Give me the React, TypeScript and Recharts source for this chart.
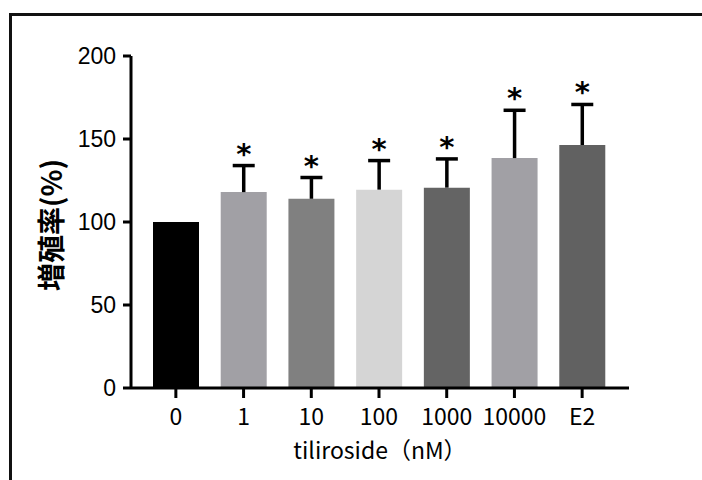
import React from "react";
import { BarChart, Bar, XAxis, YAxis, Cell, LabelList } from "recharts";

// tiliroside concentrations (nM) + E2 control
const categories = ["0", "1", "10", "100", "1000", "10000", "E2"];
const means = [100, 118, 114, 119.5, 120.7, 138.5, 146.4];
const errors = [0, 16, 12.8, 17.5, 17.3, 28.8, 24.4];
const significant = [false, true, true, true, true, true, true];
const barColors = ["#000000", "#a1a0a5", "#808080", "#d5d5d5", "#646464", "#a1a0a5", "#616161"];
const yTicks = [0, 50, 100, 150, 200];

const data = categories.map((name, i) => ({
  name,
  mean: means[i],
  err: errors[i],
  sig: significant[i],
}));

const ErrorStem = (props: any) => {
  const { x, y, width, height } = props;
  if (!height || height <= 0) return null;
  const cx = x + width / 2;
  return (
    <g>
      <line x1={cx} x2={cx} y1={y + height} y2={y} stroke="#000" strokeWidth={3.5} />
      <line x1={cx - 11} x2={cx + 11} y1={y} y2={y} stroke="#000" strokeWidth={3.5} />
    </g>
  );
};

const Star = (props: any) => {
  const { x, y, width, index } = props;
  if (!significant[index]) return null;
  return (
    <text
      x={x + width / 2}
      y={y - 2}
      textAnchor="middle"
      fontFamily="'DejaVu Sans'"
      fontWeight="bold"
      fontSize={29}
      fill="#000"
    >
      *
    </text>
  );
};

const YLabel = () => (
  <text
    x={50}
    y={225}
    transform="rotate(-90, 50, 225)"
    textAnchor="middle"
    dominantBaseline="central"
    fontFamily="'Noto Sans CJK JP'"
    fontWeight="bold"
    fontSize={28}
    fill="#000"
  >
    増殖率(%)
  </text>
);

export default function App() {
  return (
    <div style={{ position: "fixed", left: 0, top: 0, width: 702, height: 480, background: "#fff" }}>
      <div
        style={{
          position: "fixed",
          left: 9,
          top: 13,
          width: 693,
          height: 467,
          borderTop: "3px solid #111",
          borderLeft: "3px solid #111",
          boxSizing: "border-box",
        }}
      />
      <div style={{ position: "fixed", left: 0, top: 0 }}>
        <BarChart
          width={702}
          height={480}
          data={data}
          margin={{ top: 56, right: 73, bottom: 0, left: 0 }}
        >
          <XAxis
            dataKey="name"
            height={92}
            padding={{ left: 11, right: 13 }}
            axisLine={{ stroke: "#000", strokeWidth: 3 }}
            tickLine={{ stroke: "#000", strokeWidth: 3 }}
            tickSize={10}
            tickMargin={11}
            tick={{ fill: "#000", fontSize: 23, fontFamily: "'Noto Sans CJK JP'" }}
            interval={0}
            label={{
              value: "tiliroside（nM）",
              position: "insideBottom",
              offset: 21,
              fill: "#000",
              fontSize: 23,
              fontFamily: "'Noto Sans CJK JP'",
            }}
          />
          <YAxis
            width={131}
            domain={[0, 200]}
            ticks={yTicks}
            allowDataOverflow
            axisLine={{ stroke: "#000", strokeWidth: 3 }}
            tickLine={{ stroke: "#000", strokeWidth: 3 }}
            tickSize={8}
            tickMargin={7}
            tick={{ fill: "#000", fontSize: 23, fontFamily: "'Liberation Sans Narrow', 'Liberation Sans'" }}
            label={<YLabel />}
          />
          <Bar dataKey="mean" stackId="a" barSize={46} isAnimationActive={false}>
            {data.map((d, i) => (
              <Cell key={d.name} fill={barColors[i]} />
            ))}
          </Bar>
          <Bar dataKey="err" stackId="a" barSize={46} shape={<ErrorStem />} isAnimationActive={false}>
            <LabelList dataKey="err" content={<Star />} />
          </Bar>
        </BarChart>
      </div>
    </div>
  );
}
